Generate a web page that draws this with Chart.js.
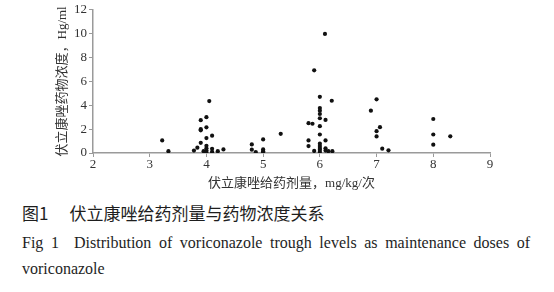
<!DOCTYPE html>
<html>
<head>
<meta charset="utf-8">
<script src="https://cdn.jsdelivr.net/npm/chart.js@4.4.1/dist/chart.umd.min.js"></script>
<style>
  body { margin: 0; background: #fff; width: 554px; height: 292px; overflow: hidden; position: relative; }
  #wrap { position: absolute; left: 0; top: 0; width: 554px; height: 200px; }
  .cap { position: absolute; left: 22px; color: #1e1e1e; white-space: nowrap; }
  #capCn { top: 202px; font: 17px/22px "Noto Sans CJK SC", sans-serif; }
  #capCn .gap { display: inline-block; width: 21px; }
  #capEn { top: 233px; width: 508px; font: 16px/20px "Liberation Serif", serif; display: flex; justify-content: space-between; }
  #capEn2 { top: 259px; font: 16px/20px "Liberation Serif", serif; }
</style>
</head>
<body>
<div id="wrap"><canvas id="chart" width="554" height="200"></canvas></div>
<div class="cap" id="capCn">图1<span class="gap"></span>伏立康唑给药剂量与药物浓度关系</div>
<div class="cap" id="capEn"></div>
<div class="cap" id="capEn2">voriconazole</div>
<script>
// dose (mg/kg per dose) vs trough level
const doseMgKg = [
    3.22, 3.33,
    3.78, 3.84, 3.9, 3.9, 3.9, 3.9, 4.0, 4.0, 4.0, 4.1, 4.05, 3.95, 4.0, 4.0, 4.0, 4.0, 4.1, 4.1, 4.2, 4.3,
    4.8, 4.8, 4.87, 5.0, 5.0, 5.0, 5.0, 5.31,
    6.09, 5.9, 6.0, 6.21, 6.0, 6.0, 6.0, 6.0, 6.1, 5.8, 5.87, 6.0, 6.0, 5.8, 6.1, 5.8, 6.0, 6.0, 6.0, 6.0, 5.9, 6.1, 6.1, 6.15, 6.22, 6.0,
    7.0, 6.9, 7.06, 7.0, 7.0, 7.1, 7.21,
    8.0, 8.0, 8.0, 8.3
];
const troughLevel = [
    1.05, 0.15,
    0.2, 0.45, 0.85, 2.0, 1.9, 2.75, 3.0, 2.15, 1.25, 1.45, 4.35, 0.15, 0.6, 0.4, 0.2, 0.05, 0.35, 0.1, 0.15, 0.3,
    0.72, 0.28, 0.08, 1.14, 0.3, 0.15, 0.05, 1.61,
    9.98, 6.93, 4.71, 4.38, 3.77, 3.55, 3.27, 2.91, 2.77, 2.5, 2.45, 2.25, 1.55, 1.05, 1.05, 0.58, 0.78, 0.58, 0.42, 0.28, 0.17, 0.4, 0.2, 0.15, 0.15, 0.1,
    4.5, 3.55, 2.16, 1.83, 1.39, 0.36, 0.22,
    2.85, 1.55, 0.7, 1.4
];
const xTicks = [2, 3, 4, 5, 6, 7, 8, 9];
const yTicks = [0, 2, 4, 6, 8, 10, 12];

const xTitle = '伏立康唑给药剂量，mg/kg/次';
const yTitle = '伏立康唑药物浓度，Hg/ml';

// English caption, spread over the full line width
const enWords = ['Fig', '1', '', 'Distribution', 'of', 'voriconazole', 'trough', 'levels', 'as', 'maintenance', 'doses', 'of'];
const capEn = document.getElementById('capEn');
enWords.forEach(w => {
    const s = document.createElement('span');
    s.textContent = w;
    capEn.appendChild(s);
});

const points = doseMgKg.map((x, i) => ({ x: x, y: troughLevel[i] }));
const axisGray = '#9a9a9a';
const tickFont = { family: '"Liberation Serif", serif', size: 13 };
const titleFont = { family: '"Liberation Serif", "Noto Sans CJK SC", serif', size: 13 };

new Chart(document.getElementById('chart'), {
    type: 'scatter',
    data: {
        datasets: [{
            data: points,
            backgroundColor: '#111',
            borderColor: '#111',
            borderWidth: 0,
            pointRadius: 2.1,
            pointHoverRadius: 2.1
        }]
    },
    options: {
        responsive: false,
        devicePixelRatio: 1,
        animation: false,
        layout: { padding: { left: 48, right: 64, top: 8, bottom: 0 } },
        plugins: { legend: { display: false }, tooltip: { enabled: false } },
        scales: {
            x: {
                type: 'linear',
                min: xTicks[0],
                max: xTicks[xTicks.length - 1],
                afterFit: scale => { scale.height = 47; },
                afterBuildTicks: scale => { scale.ticks = xTicks.map(v => ({ value: v })); },
                grid: { drawOnChartArea: false, drawTicks: true, tickLength: 4, color: axisGray },
                border: { color: axisGray, width: 1.5 },
                ticks: { color: '#333', font: tickFont, padding: 0, maxRotation: 0 },
                title: { display: true, text: xTitle, color: '#333', font: titleFont, padding: { top: 0, bottom: 9 } }
            },
            y: {
                type: 'linear',
                min: yTicks[0],
                max: yTicks[yTicks.length - 1],
                afterFit: scale => { scale.width = 45; },
                afterBuildTicks: scale => { scale.ticks = yTicks.map(v => ({ value: v })); },
                grid: { drawOnChartArea: false, drawTicks: true, tickLength: 4, color: axisGray },
                border: { color: axisGray, width: 1.5 },
                ticks: { color: '#333', font: tickFont, padding: 2 },
                title: { display: true, text: yTitle, color: '#333', font: titleFont, padding: { top: 7, bottom: 0 } }
            }
        }
    }
});
</script>
</body>
</html>
